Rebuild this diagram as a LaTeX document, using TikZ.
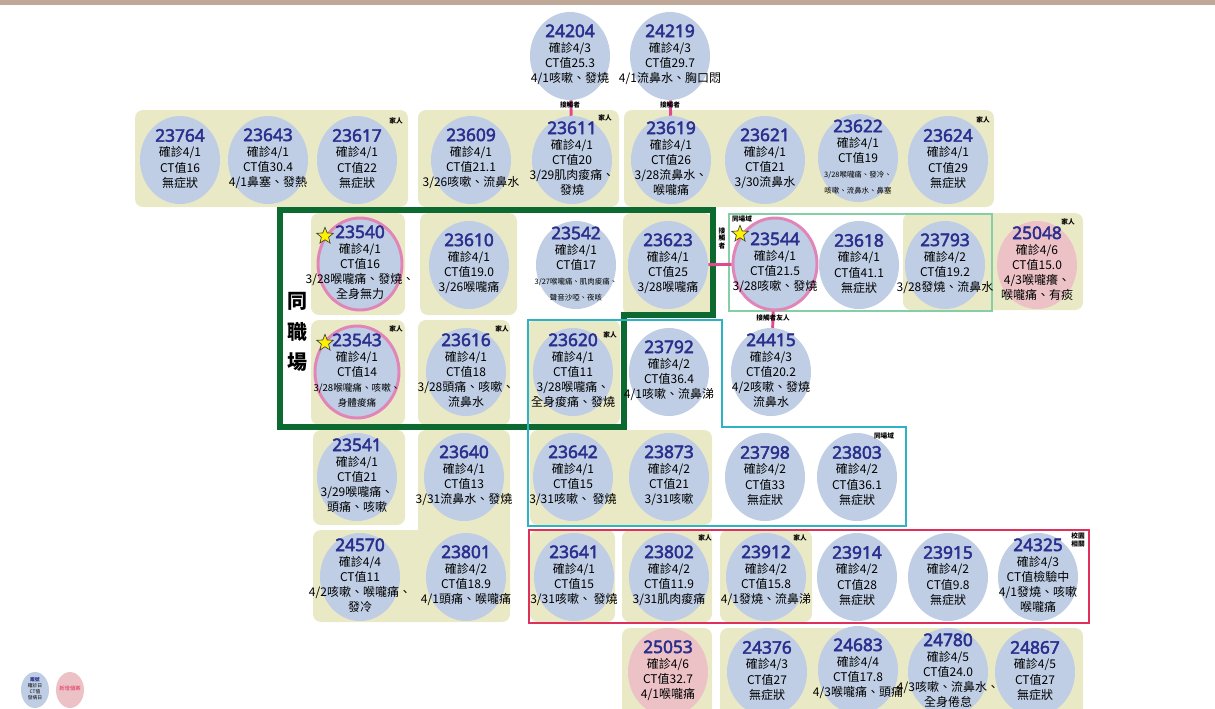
\documentclass[tikz,border=0pt]{standalone}
\usepackage{fontspec}
\setmainfont{Noto Sans CJK TC}
\newfontfamily\numfont{Noto Sans}[AutoFakeBold=2.6]
\usetikzlibrary{positioning,shapes}

\definecolor{caseblue}{HTML}{BFCEE4}
\definecolor{newpink}{HTML}{ECC2C6}
\definecolor{boxyel}{HTML}{EAE9C6}
\definecolor{casenavy}{HTML}{2A2F8E}
\definecolor{ringpink}{HTML}{E184B8}
\definecolor{linkpink}{HTML}{DE4A8F}
\definecolor{workgreen}{HTML}{0C6A31}
\definecolor{sitecyan}{HTML}{2EB3C6}
\definecolor{sitegreen}{HTML}{86CFA6}
\definecolor{schoolred}{HTML}{DF2F5B}
\definecolor{topbar}{HTML}{BFA898}

\newcommand{\cno}[1]{{\numfont\bfseries\fontsize{13}{13}\selectfont\color{casenavy}#1}}
\newcommand{\sm}{\fontsize{5.6}{7}\selectfont}
\newcommand{\smm}{\fontsize{7.2}{8.5}\selectfont}

\tikzset{
  case/.style={ellipse, fill=caseblue, minimum width=60pt, minimum height=66pt, inner sep=0pt},
  newcase/.style={case, fill=newpink},
  ringed/.style={case, draw=ringpink, line width=2.2pt, minimum width=63pt, minimum height=69pt},
  casetxt/.style={align=center, font=\fontsize{9}{11.4}\selectfont, inner sep=0pt, yshift=1pt},
  grp/.style={fill=boxyel, rounded corners=6pt},
  tag/.style={font=\fontsize{5}{5.6}\selectfont\bfseries, inner sep=0pt, align=center},
  link/.style={draw=linkpink, line width=2.2pt},
  hero/.style={star, star points=5, star point ratio=2.3, fill=yellow, draw=black!75, line width=0.5pt, minimum size=13pt, inner sep=0pt},
}

\begin{document}
\begin{tikzpicture}[x=0.75pt, y=-0.75pt]
\useasboundingbox (0,0) rectangle (1215,708);
\clip (0,0) rectangle (1215,708);
\fill[topbar] (0,0) rectangle (1215,5);

% family / group boxes
\fill[grp] (135,110) rectangle (408,207);
\fill[grp] (418,110) rectangle (619,207);
\fill[grp] (624,110) rectangle (994,207);
\fill[grp] (311,213) rectangle (405,315);
\fill[grp] (420,213) rectangle (517,315);
\fill[grp] (623,213) rectangle (712,315);
\fill[grp] (903,213) rectangle (1083,310);
\fill[grp] (311,320) rectangle (405,425);
\fill[grp] (418,320) rectangle (510,425);
\fill[grp] (528,320) rectangle (620,425);
\fill[grp] (313,430) rectangle (405,525);
\fill[grp] (418,430) rectangle (510,560);
\fill[grp] (530,430) rectangle (712,525);
\fill[grp] (313,530) rectangle (510,622);
\fill[grp] (530,530) rectangle (615,622);
\fill[grp] (622,530) rectangle (712,622);
\fill[grp] (720,530) rectangle (812,622);
\fill[grp] (622,628) rectangle (712,720);
\fill[grp] (720,628) rectangle (1083,720);

% clusters
\draw[workgreen, line width=3.8pt] (280,210) -- (713,210) -- (713,315) -- (624,315) -- (624,427) -- (280,427) -- cycle;
\draw[sitecyan, line width=1.5pt] (528,320) -- (722,320) -- (722,427) -- (906,427) -- (906,526) -- (528,526) -- cycle;
\draw[sitegreen, line width=1.2pt] (729,214) rectangle (992,311);
\draw[schoolred, line width=1.6pt] (529,530) rectangle (1089,623);

% row 0
\node[case, label={[casetxt]center:{\cno{24204}\\確診4/3\\CT值25.3\\4/1咳嗽、發燒}}] (c24204) at (570,56) {};
\node[case, label={[casetxt]center:{\cno{24219}\\確診4/3\\CT值29.7\\4/1流鼻水、胸口悶}}] (c24219) at (670,56) {};

% row 1
\node[case, label={[casetxt]center:{\cno{23764}\\確診4/1\\CT值16\\無症狀}}] (c23764) at (180,160) {};
\node[case, label={[casetxt]center:{\cno{23643}\\確診4/1\\CT值30.4\\4/1鼻塞、發熱}}] (c23643) at (268,160) {};
\node[case, label={[casetxt]center:{\cno{23617}\\確診4/1\\CT值22\\無症狀}}] (c23617) at (357,160) {};
\node[case, label={[casetxt]center:{\cno{23609}\\確診4/1\\CT值21.1\\3/26咳嗽、流鼻水}}] (c23609) at (471,160) {};
\node[case, label={[casetxt]center:{\cno{23611}\\確診4/1\\CT值20\\3/29肌肉痠痛、\\發燒}}] (c23611) at (572,160) {};
\node[case, label={[casetxt]center:{\cno{23619}\\確診4/1\\CT值26\\3/28流鼻水、\\喉嚨痛}}] (c23619) at (671,160) {};
\node[case, label={[casetxt]center:{\cno{23621}\\確診4/1\\CT值21\\3/30流鼻水}}] (c23621) at (765,160) {};
\node[case, label={[casetxt]center:{\cno{23622}\\確診4/1\\CT值19\\\sm 3/28喉嚨痛、發冷、\\\sm 咳嗽、流鼻水、鼻塞}}] (c23622) at (858,158) {};
\node[case, label={[casetxt]center:{\cno{23624}\\確診4/1\\CT值29\\無症狀}}] (c23624) at (948,160) {};

% row 2
\node[ringed, label={[casetxt]center:{\cno{23540}\\確診4/1\\CT值16\\3/28喉嚨痛、發燒、\\全身無力}}] (c23540) at (360,264) {};
\node[case, label={[casetxt]center:{\cno{23610}\\確診4/1\\CT值19.0\\3/26喉嚨痛}}] (c23610) at (469,265) {};
\node[case, label={[casetxt]center:{\cno{23542}\\確診4/1\\CT值17\\\sm 3/27喉嚨痛、肌肉痠痛、\\\sm 聲音沙啞、夜咳}}] (c23542) at (576,265) {};
\node[case, label={[casetxt]center:{\cno{23623}\\確診4/1\\CT值25\\3/28喉嚨痛}}] (c23623) at (668,265) {};
\node[ringed, label={[casetxt]center:{\cno{23544}\\確診4/1\\CT值21.5\\3/28咳嗽、發燒}}] (c23544) at (775,264) {};
\node[case, label={[casetxt]center:{\cno{23618}\\確診4/1\\CT值41.1\\無症狀}}] (c23618) at (859,265) {};
\node[case, label={[casetxt]center:{\cno{23793}\\確診4/2\\CT值19.2\\3/28發燒、流鼻水}}] (c23793) at (945,265) {};
\node[newcase, label={[casetxt]center:{\cno{25048}\\確診4/6\\CT值15.0\\4/3喉嚨癢、\\喉嚨痛、有痰}}] (c25048) at (1037,265) {};

% row 3
\node[ringed, label={[casetxt]center:{\cno{23543}\\確診4/1\\CT值14\\\smm 3/28喉嚨痛、咳嗽、\\\smm 身體痠痛}}] (c23543) at (357,372) {};
\node[case, label={[casetxt]center:{\cno{23616}\\確診4/1\\CT值18\\3/28頭痛、咳嗽、\\流鼻水}}] (c23616) at (466,372) {};
\node[case, label={[casetxt]center:{\cno{23620}\\確診4/1\\CT值11\\3/28喉嚨痛、\\全身痠痛、發燒}}] (c23620) at (573,372) {};
\node[case, label={[casetxt]center:{\cno{23792}\\確診4/2\\CT值36.4\\4/1咳嗽、流鼻涕}}] (c23792) at (669,372) {};
\node[case, label={[casetxt]center:{\cno{24415}\\確診4/3\\CT值20.2\\4/2咳嗽、發燒\\流鼻水}}] (c24415) at (771,372) {};

% row 4
\node[case, label={[casetxt]center:{\cno{23541}\\確診4/1\\CT值21\\3/29喉嚨痛、\\頭痛、咳嗽}}] (c23541) at (357,477) {};
\node[case, label={[casetxt]center:{\cno{23640}\\確診4/1\\CT值13\\3/31流鼻水、發燒}}] (c23640) at (464,477) {};
\node[case, label={[casetxt]center:{\cno{23642}\\確診4/1\\CT值15\\3/31咳嗽、 發燒}}] (c23642) at (573,477) {};
\node[case, label={[casetxt]center:{\cno{23873}\\確診4/2\\CT值21\\3/31咳嗽}}] (c23873) at (669,477) {};
\node[case, label={[casetxt]center:{\cno{23798}\\確診4/2\\CT值33\\無症狀}}] (c23798) at (765,477) {};
\node[case, label={[casetxt]center:{\cno{23803}\\確診4/2\\CT值36.1\\無症狀}}] (c23803) at (857,477) {};

% row 5
\node[case, label={[casetxt]center:{\cno{24570}\\確診4/4\\CT值11\\4/2咳嗽、喉嚨痛、\\發冷}}] (c24570) at (360,577) {};
\node[case, label={[casetxt]center:{\cno{23801}\\確診4/2\\CT值18.9\\4/1頭痛、喉嚨痛}}] (c23801) at (466,577) {};
\node[case, label={[casetxt]center:{\cno{23641}\\確診4/1\\CT值15\\3/31咳嗽、 發燒}}] (c23641) at (574,577) {};
\node[case, label={[casetxt]center:{\cno{23802}\\確診4/2\\CT值11.9\\3/31肌肉痠痛}}] (c23802) at (669,577) {};
\node[case, label={[casetxt]center:{\cno{23912}\\確診4/2\\CT值15.8\\4/1發燒、流鼻涕}}] (c23912) at (766,577) {};
\node[case, label={[casetxt]center:{\cno{23914}\\確診4/2\\CT值28\\無症狀}}] (c23914) at (857,577) {};
\node[case, label={[casetxt]center:{\cno{23915}\\確診4/2\\CT值9.8\\無症狀}}] (c23915) at (948,577) {};
\node[case, label={[casetxt]center:{\cno{24325}\\確診4/3\\CT值檢驗中\\4/1發燒、咳嗽\\喉嚨痛}}] (c24325) at (1038,577) {};

% row 6
\node[newcase, label={[casetxt]center:{\cno{25053}\\確診4/6\\CT值32.7\\4/1喉嚨痛}}] (c25053) at (668,672) {};
\node[case, label={[casetxt]center:{\cno{24376}\\確診4/3\\CT值27\\無症狀}}] (c24376) at (767,672) {};
\node[case, label={[casetxt]center:{\cno{24683}\\確診4/4\\CT值17.8\\4/3喉嚨痛、頭痛}}] (c24683) at (858,670) {};
\node[case, label={[casetxt]center:{\cno{24780}\\確診4/5\\CT值24.0\\4/3咳嗽、流鼻水、\\全身倦怠}}] (c24780) at (948,672) {};
\node[case, label={[casetxt]center:{\cno{24867}\\確診4/5\\CT值27\\無症狀}}] (c24867) at (1035,672) {};

% index cases
\node[hero] (s23540) at (325,236) {};
\node[hero] (s23543) at (325,343) {};
\node[hero] (s23544) at (740,234) {};

% contacts
\draw[link] (c24204) -- (c23611);
\draw[link] (c24219) -- (c23619);
\draw[link] (c23623) -- (c23544);
\draw[link] (c23544) -- (c24415);
\node[tag] (k24204) at (570,105) {接觸者};
\node[tag] (k24219) at (670,105) {接觸者};
\node[tag] (k23623) at (722,238) {接\\觸\\者};
\node[tag] (k23544) at (773,318) {接觸者友人};

% tags
\node[tag] (f23617) at (396,121) {家人};
\node[tag] (f23611) at (605,118) {家人};
\node[tag] (f23624) at (983,120) {家人};
\node[tag] (f25048) at (1068,222) {家人};
\node[tag] (f23543) at (396,329) {家人};
\node[tag] (f23616) at (502,329) {家人};
\node[tag] (f23620) at (610,335) {家人};
\node[tag] (f23802) at (705,538) {家人};
\node[tag] (f23912) at (800,538) {家人};
\node[tag] (u24325) at (1078,540) {校園\\相關};
\node[tag] (p23544) at (742,219) {同場域};
\node[tag] (p23803) at (884,436) {同場域};
\node[font=\fontsize{15}{23}\selectfont\bfseries, align=center, inner sep=0pt] (work) at (297,332) {同\\職\\場};

% legend
\node[case, minimum width=21pt, minimum height=27pt, label={[casetxt, font=\fontsize{3.6}{4.3}\selectfont]center:{{\color{casenavy}\bfseries 案號}\\確診日\\CT值\\發病日}}] (keyold) at (35,690) {};
\node[newcase, minimum width=21pt, minimum height=27pt, label={[casetxt, font=\fontsize{4}{5}\selectfont, text=schoolred]center:{新增個案}}] (keynew) at (70,690) {};
\end{tikzpicture}
\end{document}
